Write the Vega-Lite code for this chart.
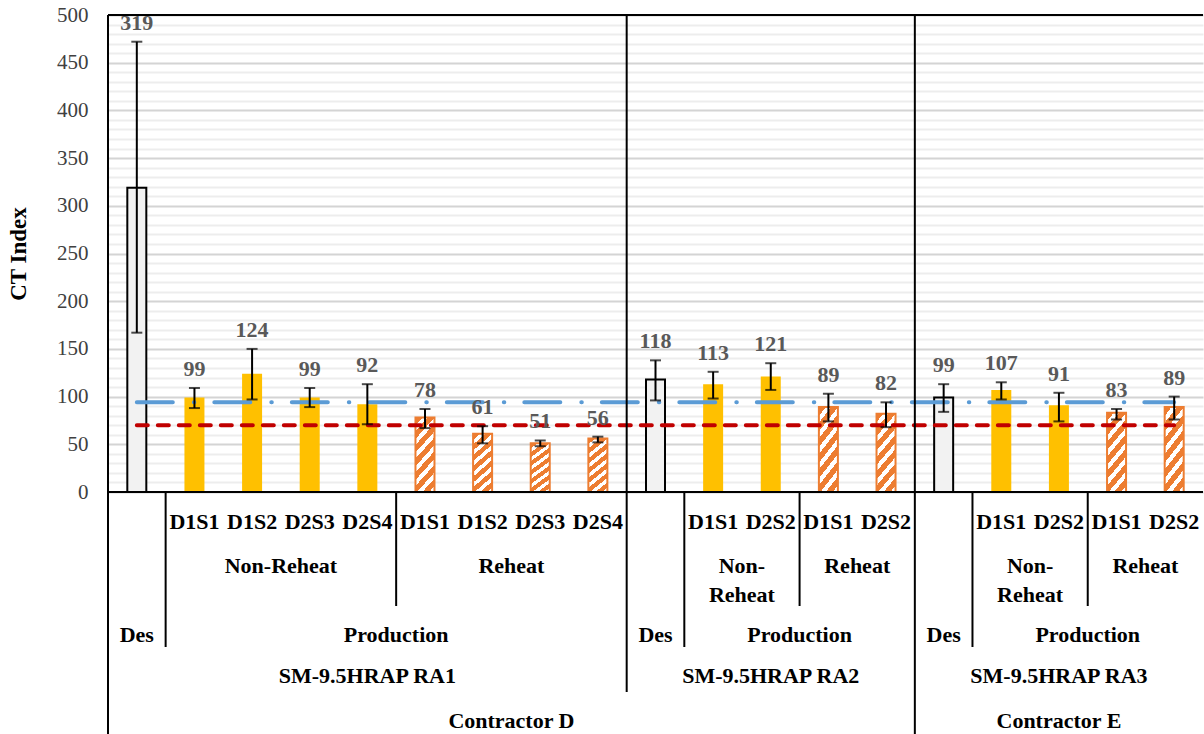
{
  "$schema": "https://vega.github.io/schema/vega-lite/v6.json",
  "padding": {"left": 7, "top": 4, "right": 0, "bottom": 0},
  "spacing": 0,
  "bounds": "flush",
  "config": {
    "font": "Liberation Serif",
    "view": {"stroke": null},
    "axis": {"labelFont": "Liberation Serif", "titleFont": "Liberation Serif"},
    "text": {"font": "Liberation Serif"}
  },
  "datasets": {
    "bars": [
      {"id": "c01", "contractor": "Contractor D", "mix": "SM-9.5HRAP RA1", "stage": "Des", "heat": "", "sample": "", "value": 319, "lo": 167, "hi": 472},
      {"id": "c02", "contractor": "Contractor D", "mix": "SM-9.5HRAP RA1", "stage": "Production", "heat": "Non-Reheat", "sample": "D1S1", "value": 99, "lo": 88, "hi": 109},
      {"id": "c03", "contractor": "Contractor D", "mix": "SM-9.5HRAP RA1", "stage": "Production", "heat": "Non-Reheat", "sample": "D1S2", "value": 124, "lo": 97, "hi": 150},
      {"id": "c04", "contractor": "Contractor D", "mix": "SM-9.5HRAP RA1", "stage": "Production", "heat": "Non-Reheat", "sample": "D2S3", "value": 99, "lo": 89, "hi": 109},
      {"id": "c05", "contractor": "Contractor D", "mix": "SM-9.5HRAP RA1", "stage": "Production", "heat": "Non-Reheat", "sample": "D2S4", "value": 92, "lo": 71, "hi": 113},
      {"id": "c06", "contractor": "Contractor D", "mix": "SM-9.5HRAP RA1", "stage": "Production", "heat": "Reheat", "sample": "D1S1", "value": 78, "lo": 67, "hi": 87},
      {"id": "c07", "contractor": "Contractor D", "mix": "SM-9.5HRAP RA1", "stage": "Production", "heat": "Reheat", "sample": "D1S2", "value": 61, "lo": 51, "hi": 69},
      {"id": "c08", "contractor": "Contractor D", "mix": "SM-9.5HRAP RA1", "stage": "Production", "heat": "Reheat", "sample": "D2S3", "value": 51, "lo": 48, "hi": 54},
      {"id": "c09", "contractor": "Contractor D", "mix": "SM-9.5HRAP RA1", "stage": "Production", "heat": "Reheat", "sample": "D2S4", "value": 56, "lo": 52, "hi": 58},
      {"id": "c10", "contractor": "Contractor D", "mix": "SM-9.5HRAP RA2", "stage": "Des", "heat": "", "sample": "", "value": 118, "lo": 96, "hi": 138},
      {"id": "c11", "contractor": "Contractor D", "mix": "SM-9.5HRAP RA2", "stage": "Production", "heat": "Non-Reheat", "sample": "D1S1", "value": 113, "lo": 98, "hi": 126},
      {"id": "c12", "contractor": "Contractor D", "mix": "SM-9.5HRAP RA2", "stage": "Production", "heat": "Non-Reheat", "sample": "D2S2", "value": 121, "lo": 107, "hi": 135},
      {"id": "c13", "contractor": "Contractor D", "mix": "SM-9.5HRAP RA2", "stage": "Production", "heat": "Reheat", "sample": "D1S1", "value": 89, "lo": 74, "hi": 103},
      {"id": "c14", "contractor": "Contractor D", "mix": "SM-9.5HRAP RA2", "stage": "Production", "heat": "Reheat", "sample": "D2S2", "value": 82, "lo": 68, "hi": 94},
      {"id": "c15", "contractor": "Contractor E", "mix": "SM-9.5HRAP RA3", "stage": "Des", "heat": "", "sample": "", "value": 99, "lo": 84, "hi": 113},
      {"id": "c16", "contractor": "Contractor E", "mix": "SM-9.5HRAP RA3", "stage": "Production", "heat": "Non-Reheat", "sample": "D1S1", "value": 107, "lo": 97, "hi": 115},
      {"id": "c17", "contractor": "Contractor E", "mix": "SM-9.5HRAP RA3", "stage": "Production", "heat": "Non-Reheat", "sample": "D2S2", "value": 91, "lo": 74, "hi": 104},
      {"id": "c18", "contractor": "Contractor E", "mix": "SM-9.5HRAP RA3", "stage": "Production", "heat": "Reheat", "sample": "D1S1", "value": 83, "lo": 76, "hi": 87},
      {"id": "c19", "contractor": "Contractor E", "mix": "SM-9.5HRAP RA3", "stage": "Production", "heat": "Reheat", "sample": "D2S2", "value": 89, "lo": 76, "hi": 100}
    ],
    "groups": [
      {"id": "c03", "row": 2, "label": "Non-Reheat", "place": "edge"},
      {"id": "c07", "row": 2, "label": "Reheat", "place": "edge"},
      {"id": "c11", "row": 2, "label": "Non-\nReheat", "place": "edge"},
      {"id": "c13", "row": 2, "label": "Reheat", "place": "edge"},
      {"id": "c16", "row": 2, "label": "Non-\nReheat", "place": "edge"},
      {"id": "c18", "row": 2, "label": "Reheat", "place": "edge"},
      {"id": "c01", "row": 3, "label": "Des", "place": "center"},
      {"id": "c05", "row": 3, "label": "Production", "place": "edge"},
      {"id": "c10", "row": 3, "label": "Des", "place": "center"},
      {"id": "c12", "row": 3, "label": "Production", "place": "edge"},
      {"id": "c15", "row": 3, "label": "Des", "place": "center"},
      {"id": "c17", "row": 3, "label": "Production", "place": "edge"},
      {"id": "c05", "row": 4, "label": "SM-9.5HRAP RA1", "place": "center"},
      {"id": "c12", "row": 4, "label": "SM-9.5HRAP RA2", "place": "center"},
      {"id": "c17", "row": 4, "label": "SM-9.5HRAP RA3", "place": "center"},
      {"id": "c07", "row": 5, "label": "Contractor D", "place": "edge"},
      {"id": "c17", "row": 5, "label": "Contractor E", "place": "center"}
    ],
    "dividers": [
      {"id": "c01", "depth": 5.5},
      {"id": "c02", "depth": 3.5},
      {"id": "c06", "depth": 2.5},
      {"id": "c10", "depth": 4.5},
      {"id": "c11", "depth": 3.5},
      {"id": "c13", "depth": 2.5},
      {"id": "c15", "depth": 5.5},
      {"id": "c16", "depth": 3.5},
      {"id": "c18", "depth": 2.5}
    ]
  },
  "vconcat": [
    {
      "width": 1095,
      "height": 477,
      "data": {"name": "bars"},
      "resolve": {"axis": {"y": "independent"}},
      "layer": [
        {
          "transform": [{"filter": "datum.stage === 'Des'"}],
          "mark": {"type": "bar", "width": 19, "fill": "#F2F2F2", "stroke": "black", "strokeWidth": 2},
          "encoding": {
            "x": {"field": "id", "type": "nominal", "scale": {"domain": ["c01","c02","c03","c04","c05","c06","c07","c08","c09","c10","c11","c12","c13","c14","c15","c16","c17","c18","c19"], "paddingInner": 0, "paddingOuter": 0}, "axis": null},
            "y": {
              "field": "value", "type": "quantitative", "title": "CT Index",
              "scale": {"domain": [0, 500], "nice": false},
              "axis": {
                "values": [0, 50, 100, 150, 200, 250, 300, 350, 400, 450, 500],
                "labelOverlap": false,
                "labelFontSize": 21,
                "labelColor": "#404040",
                "labelPadding": 20,
                "ticks": false,
                "tickSize": 0,
                "domain": false,
                "grid": true,
                "gridColor": "#D4D4D4",
                "gridWidth": 2,
                "titleFontSize": 23,
                "titleFontWeight": "bold",
                "titleColor": "black",
                "titlePadding": 26
              }
            }
          }
        },
        {
          "transform": [{"filter": "datum.heat === 'Non-Reheat'"}],
          "mark": {"type": "bar", "width": 20, "fill": "#FFC000"},
          "encoding": {
            "x": {"field": "id", "type": "nominal"},
            "y": {
              "field": "value", "type": "quantitative",
              "axis": {
                "orient": "right",
                "values": [10,20,30,40,60,70,80,90,110,120,130,140,160,170,180,190,210,220,230,240,260,270,280,290,310,320,330,340,360,370,380,390,410,420,430,440,460,470,480,490],
                "labels": false, "ticks": false, "domain": false, "title": null,
                "grid": true, "gridColor": "#EDEDED", "gridWidth": 2
              }
            }
          }
        },
        {
          "transform": [{"filter": "datum.heat === 'Reheat'"}],
          "mark": {
            "type": "bar", "width": 19, "stroke": "#ED7D31", "strokeWidth": 2,
            "fill": {
              "gradient": "linear", "x1": 0, "y1": 0, "x2": 0.34, "y2": 1.19,
              "stops": [
                {"offset": 0, "color": "#ED7D31"}, {"offset": 0.08, "color": "#ED7D31"}, {"offset": 0.08, "color": "#FFFFFF"}, {"offset": 0.1429, "color": "#FFFFFF"},
                {"offset": 0.1429, "color": "#ED7D31"}, {"offset": 0.2229, "color": "#ED7D31"}, {"offset": 0.2229, "color": "#FFFFFF"}, {"offset": 0.2857, "color": "#FFFFFF"},
                {"offset": 0.2857, "color": "#ED7D31"}, {"offset": 0.3657, "color": "#ED7D31"}, {"offset": 0.3657, "color": "#FFFFFF"}, {"offset": 0.4286, "color": "#FFFFFF"},
                {"offset": 0.4286, "color": "#ED7D31"}, {"offset": 0.5086, "color": "#ED7D31"}, {"offset": 0.5086, "color": "#FFFFFF"}, {"offset": 0.5714, "color": "#FFFFFF"},
                {"offset": 0.5714, "color": "#ED7D31"}, {"offset": 0.6514, "color": "#ED7D31"}, {"offset": 0.6514, "color": "#FFFFFF"}, {"offset": 0.7143, "color": "#FFFFFF"},
                {"offset": 0.7143, "color": "#ED7D31"}, {"offset": 0.7943, "color": "#ED7D31"}, {"offset": 0.7943, "color": "#FFFFFF"}, {"offset": 0.8571, "color": "#FFFFFF"},
                {"offset": 0.8571, "color": "#ED7D31"}, {"offset": 0.9371, "color": "#ED7D31"}, {"offset": 0.9371, "color": "#FFFFFF"}, {"offset": 1, "color": "#FFFFFF"}
              ]
            }
          },
          "encoding": {
            "x": {"field": "id", "type": "nominal"},
            "y": {"field": "value", "type": "quantitative", "axis": null}
          }
        },
        {
          "mark": {"type": "line", "color": "#5B9BD5", "strokeWidth": 4, "strokeDash": [36, 21, 0.5, 20], "strokeCap": "round"},
          "encoding": {
            "x": {"field": "id", "type": "nominal"},
            "y": {"datum": 94, "type": "quantitative", "axis": null}
          }
        },
        {
          "mark": {"type": "line", "color": "#C00000", "strokeWidth": 4, "strokeDash": [11, 10], "strokeCap": "round"},
          "encoding": {
            "x": {"field": "id", "type": "nominal"},
            "y": {"datum": 70, "type": "quantitative", "axis": null}
          }
        },
        {
          "mark": {"type": "rule", "color": "black", "strokeWidth": 2},
          "encoding": {
            "x": {"field": "id", "type": "nominal"},
            "y": {"field": "lo", "type": "quantitative", "axis": null},
            "y2": {"field": "hi"}
          }
        },
        {
          "mark": {"type": "tick", "orient": "horizontal", "color": "black", "size": 11, "thickness": 2},
          "encoding": {
            "x": {"field": "id", "type": "nominal"},
            "y": {"field": "lo", "type": "quantitative", "axis": null}
          }
        },
        {
          "mark": {"type": "tick", "orient": "horizontal", "color": "black", "size": 11, "thickness": 2},
          "encoding": {
            "x": {"field": "id", "type": "nominal"},
            "y": {"field": "hi", "type": "quantitative", "axis": null}
          }
        },
        {
          "mark": {"type": "text", "fontWeight": "bold", "fontSize": 22, "color": "#595959", "baseline": "middle", "dy": -19},
          "encoding": {
            "x": {"field": "id", "type": "nominal"},
            "y": {"field": "hi", "type": "quantitative", "axis": null},
            "text": {"field": "value", "type": "quantitative", "format": "d"}
          }
        },
        {
          "data": {"name": "dividers"},
          "transform": [{"filter": "datum.depth >= 4.5"}],
          "mark": {"type": "rule", "color": "black", "strokeWidth": 2},
          "encoding": {
            "x": {"field": "id", "type": "nominal", "bandPosition": 0}
          }
        },
        {
          "mark": {"type": "rule", "color": "black", "strokeWidth": 2},
          "encoding": {"y": {"datum": 500, "type": "quantitative", "axis": null}}
        },
        {
          "mark": {"type": "rule", "color": "black", "strokeWidth": 2},
          "encoding": {"y": {"datum": 0, "type": "quantitative", "axis": null}}
        }
      ]
    },
    {
      "width": 1095,
      "height": 241,
      "layer": [
        {
          "data": {"name": "dividers"},
          "mark": {"type": "rule", "color": "black", "strokeWidth": 2},
          "encoding": {
            "x": {"field": "id", "type": "nominal", "bandPosition": 0, "scale": {"domain": ["c01","c02","c03","c04","c05","c06","c07","c08","c09","c10","c11","c12","c13","c14","c15","c16","c17","c18","c19"], "paddingInner": 0, "paddingOuter": 0}, "axis": null},
            "y": {"field": "depth", "type": "quantitative", "scale": {"domain": [0, 1, 2, 2.5, 3, 3.5, 4, 4.5, 5, 5.5], "range": [0, 37, 81, 114, 150, 155, 191, 200, 236, 242], "nice": false, "zero": false}, "axis": null},
            "y2": {"datum": 0}
          }
        },
        {
          "data": {"name": "bars"},
          "transform": [{"filter": "datum.sample !== ''"}],
          "mark": {"type": "text", "fontWeight": "bold", "fontSize": 22, "color": "black", "baseline": "alphabetic"},
          "encoding": {
            "x": {"field": "id", "type": "nominal", "axis": null},
            "y": {"datum": 1, "type": "quantitative", "axis": null},
            "text": {"field": "sample", "type": "nominal"}
          }
        },
        {
          "data": {"name": "groups"},
          "transform": [{"filter": "datum.place === 'center'"}],
          "mark": {"type": "text", "fontWeight": "bold", "fontSize": 22, "color": "black", "baseline": "alphabetic", "lineBreak": "\n", "lineHeight": 29},
          "encoding": {
            "x": {"field": "id", "type": "nominal", "axis": null},
            "y": {"field": "row", "type": "quantitative", "axis": null},
            "text": {"field": "label", "type": "nominal"}
          }
        },
        {
          "data": {"name": "groups"},
          "transform": [{"filter": "datum.place === 'edge'"}],
          "mark": {"type": "text", "fontWeight": "bold", "fontSize": 22, "color": "black", "baseline": "alphabetic", "lineBreak": "\n", "lineHeight": 29},
          "encoding": {
            "x": {"field": "id", "type": "nominal", "bandPosition": 1, "axis": null},
            "y": {"field": "row", "type": "quantitative", "axis": null},
            "text": {"field": "label", "type": "nominal"}
          }
        }
      ]
    }
  ]
}
